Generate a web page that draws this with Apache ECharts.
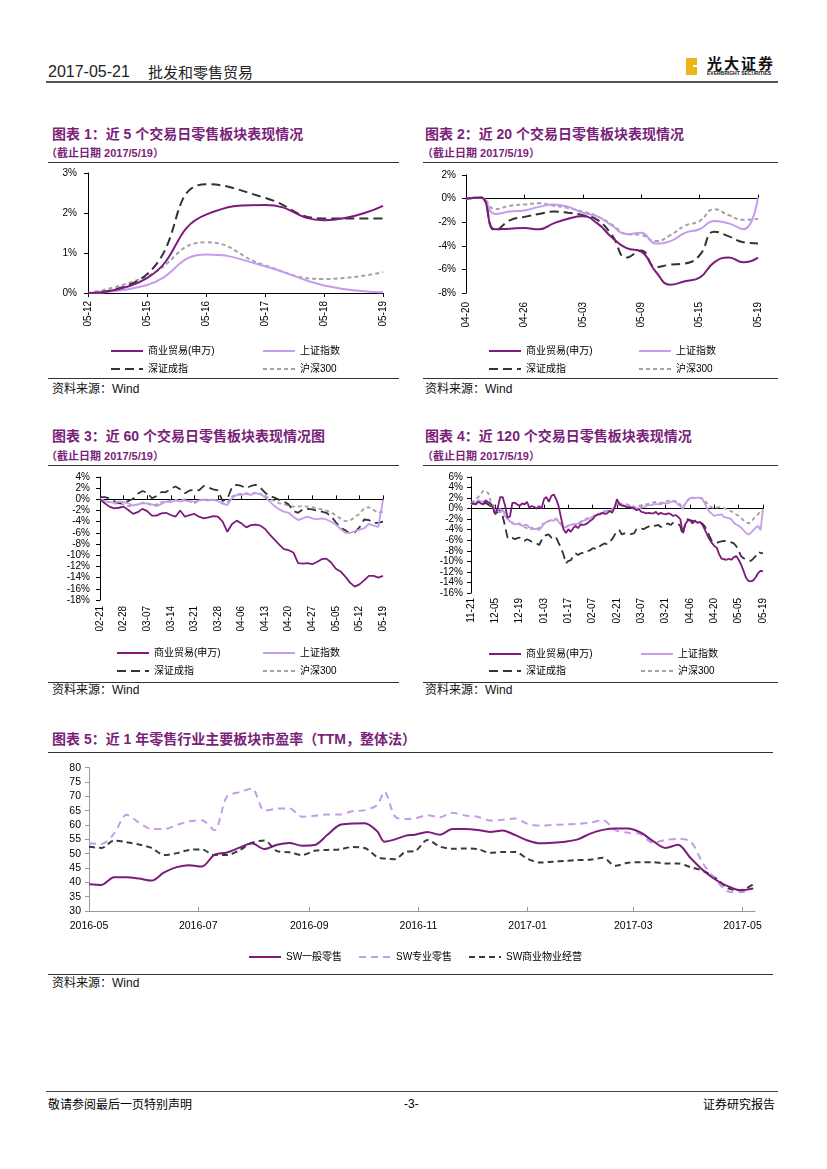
<!DOCTYPE html>
<html lang="zh-CN">
<head>
<meta charset="utf-8">
<title>批发和零售贸易</title>
<script src="https://cdn.jsdelivr.net/npm/echarts/dist/echarts.min.js"></script>
<style>
html,body{margin:0;padding:0;background:#fff;}
#page{position:relative;width:827px;height:1169px;overflow:hidden;font-family:"Liberation Sans","Noto Sans CJK SC",sans-serif;color:#000;}
.a{position:absolute;white-space:nowrap;}
.title{font-weight:bold;font-size:14px;line-height:18px;color:#7A1F7A;font-family:"Liberation Sans","Noto Sans CJK SC",sans-serif;}
.sub{font-weight:bold;font-size:11px;line-height:14px;color:#7A1F7A;}
.rule{position:absolute;height:1.3px;background:#333;}
.src{font-size:12px;line-height:14px;color:#111;}
.ch{position:absolute;}
</style>
</head>
<body>
<div id="page">
  <!-- header -->
  <div class="a" style="left:48px;top:62px;font-size:16px;line-height:20px;color:#222;">2017-05-21</div>
  <div class="a" style="left:148px;top:62px;font-size:15px;line-height:20px;color:#222;font-family:'Noto Sans CJK SC',sans-serif;">批发和零售贸易</div>
  <div class="a" style="left:686px;top:58px;width:11px;height:17px;background:#EDB51C;"></div>
  <div class="a" style="left:693px;top:65px;width:4px;height:2px;background:#fff;"></div>
  <div class="a" style="left:707px;top:54px;font-size:15px;line-height:17px;font-weight:bold;letter-spacing:2px;font-family:'Noto Sans CJK SC',sans-serif;color:#111;">光大证券</div>
  <div class="a" style="left:707px;top:71px;font-size:10px;line-height:10px;font-weight:bold;transform:scale(0.5,0.5);transform-origin:0 0;color:#111;">EVERBRIGHT SECURITIES</div>
  <div class="rule" style="left:46px;top:81px;width:732px;height:1.5px;background:#555;"></div>

  <!-- chart 1 -->
  <div class="a title" style="left:52px;top:125px;">图表 1：近 5 个交易日零售板块表现情况</div>
  <div class="a sub" style="left:46px;top:146px;">（截止日期 2017/5/19）</div>
  <div class="rule" style="left:48px;top:162px;width:351px;"></div>
  <div id="c1" class="ch" style="left:40px;top:165px;width:370px;height:212px;"></div>
  <div class="rule" style="left:48px;top:378px;width:351px;"></div>
  <div class="a src" style="left:52px;top:382px;">资料来源：Wind</div>

  <!-- chart 2 -->
  <div class="a title" style="left:425px;top:125px;">图表 2：近 20 个交易日零售板块表现情况</div>
  <div class="a sub" style="left:422px;top:146px;">（截止日期 2017/5/19）</div>
  <div class="rule" style="left:423px;top:162px;width:355px;"></div>
  <div id="c2" class="ch" style="left:420px;top:165px;width:380px;height:212px;"></div>
  <div class="rule" style="left:423px;top:378px;width:355px;"></div>
  <div class="a src" style="left:425px;top:382px;">资料来源：Wind</div>

  <!-- chart 3 -->
  <div class="a title" style="left:52px;top:427px;">图表 3：近 60 个交易日零售板块表现情况图</div>
  <div class="a sub" style="left:46px;top:449px;">（截止日期 2017/5/19）</div>
  <div class="rule" style="left:48px;top:465px;width:351px;"></div>
  <div id="c3" class="ch" style="left:40px;top:466px;width:370px;height:215px;"></div>
  <div class="rule" style="left:48px;top:682px;width:351px;"></div>
  <div class="a src" style="left:52px;top:683px;">资料来源：Wind</div>

  <!-- chart 4 -->
  <div class="a title" style="left:425px;top:427px;">图表 4：近 120 个交易日零售板块表现情况</div>
  <div class="a sub" style="left:422px;top:449px;">（截止日期 2017/5/19）</div>
  <div class="rule" style="left:423px;top:465px;width:355px;"></div>
  <div id="c4" class="ch" style="left:420px;top:466px;width:380px;height:215px;"></div>
  <div class="rule" style="left:423px;top:682px;width:355px;"></div>
  <div class="a src" style="left:425px;top:683px;">资料来源：Wind</div>

  <!-- chart 5 -->
  <div class="a title" style="left:52px;top:730px;">图表 5：近 1 年零售行业主要板块市盈率（TTM，整体法）</div>
  <div class="rule" style="left:48px;top:752px;width:725px;"></div>
  <div id="c5" class="ch" style="left:40px;top:755px;width:760px;height:218px;"></div>
  <div class="rule" style="left:48px;top:974px;width:725px;"></div>
  <div class="a src" style="left:52px;top:976px;">资料来源：Wind</div>

  <!-- footer -->
  <div class="rule" style="left:46px;top:1091px;width:732px;height:1px;background:#444;"></div>
  <div class="a" style="left:48px;top:1097px;font-size:12px;line-height:14px;font-family:'Noto Sans CJK SC',sans-serif;">敬请参阅最后一页特别声明</div>
  <div class="a" style="left:404px;top:1097px;font-size:12px;line-height:14px;">-3-</div>
  <div class="a" style="left:703px;top:1097px;font-size:12px;line-height:14px;font-family:'Noto Sans CJK SC',sans-serif;">证券研究报告</div>
</div>

<script>
// ---------------- data ----------------
const seriesNames = ['商业贸易(申万)', '上证指数', '深证成指', '沪深300'];

// chart 1: last 5 trading days
const c1Dates = ['05-12','05-15','05-16','05-17','05-18','05-19'];
const c1Trade = [0, 0.37, 1.96, 2.2, 1.82, 2.18];
const c1SH    = [0, 0.2, 0.96, 0.67, 0.19, 0.02];
const c1SZ    = [0, 0.47, 2.72, 2.38, 1.86, 1.86];
const c1HS    = [0, 0.42, 1.27, 0.69, 0.35, 0.52];
const c1Ticks = [0, 1, 2, 3];

// chart 2: last 20 trading days
const c2Dates = ['04-20','04-21','04-24','04-25','04-26','04-27','04-28','05-02','05-03','05-04','05-05','05-08','05-09','05-10','05-11','05-12','05-15','05-16','05-17','05-18','05-19'];
const c2Trade = [0, 0.1, -2.6, -2.55, -2.5, -2.6, -2.1, -1.7, -1.5, -2.1, -3.3, -4.2, -4.5, -6.2, -7.3, -7.0, -6.7, -5.4, -5.0, -5.4, -5.0];
const c2SH    = [0, 0.1, -1.3, -1.1, -1.0, -0.7, -0.5, -0.7, -1.2, -1.5, -2.3, -3.0, -2.9, -3.8, -3.6, -2.9, -2.6, -1.9, -2.1, -2.6, 0.1];
const c2SZ    = [0, 0.1, -2.7, -1.85, -1.55, -1.3, -1.1, -1.2, -1.4, -1.8, -3.1, -5.0, -4.4, -5.8, -5.6, -5.5, -4.8, -2.8, -3.2, -3.7, -3.8];
const c2HS    = [0, 0.1, -0.9, -0.6, -0.5, -0.4, -0.6, -0.8, -1.1, -1.5, -2.2, -3.0, -3.1, -3.6, -3.1, -2.3, -1.9, -0.9, -1.4, -1.8, -1.7];

// chart 3: last 60 trading days
const c3Dates = ['02-21','02-22','02-23','02-24','02-27','02-28','03-01','03-02','03-03','03-06',
  '03-07','03-08','03-09','03-10','03-13','03-14','03-15','03-16','03-17','03-20',
  '03-21','03-22','03-23','03-24','03-27','03-28','03-29','03-30','03-31','04-05',
  '04-06','04-07','04-10','04-11','04-12','04-13','04-14','04-17','04-18','04-19',
  '04-20','04-21','04-24','04-25','04-26','04-27','04-28','05-02','05-03','05-04',
  '05-05','05-08','05-09','05-10','05-11','05-12','05-15','05-16','05-17','05-18',
  '05-19'];
const c3Trade = [0.0,-0.7,-1.3,-1.6,-1.5,-1.3,-1.9,-2.6,-2.3,-1.7,
  -2.1,-2.9,-2.9,-2.5,-2.4,-2.8,-3.1,-2.0,-3.1,-2.8,
  -2.6,-3.1,-3.4,-3.2,-3.0,-3.1,-4.0,-5.8,-4.4,-3.8,
  -4.3,-5.0,-4.6,-4.5,-4.7,-5.3,-6.3,-7.2,-8.1,-8.9,
  -9.1,-9.5,-11.4,-11.5,-11.4,-11.6,-11.2,-10.7,-10.6,-11.3,
  -12.4,-12.9,-13.8,-14.9,-15.6,-15.2,-14.5,-13.7,-13.7,-14.0,
  -13.7];
const c3SH = [0.0,-0.3,-0.5,-0.6,-0.4,-0.5,-0.7,-1.1,-0.9,-0.7,
  -0.7,-0.9,-1.2,-0.8,-0.4,-0.5,-0.2,-0.4,-0.2,-0.3,
  -0.4,-0.2,-0.1,-0.2,-0.1,-0.3,-0.8,-1.0,0.2,0.8,
  0.8,1.0,0.8,1.1,0.9,0.4,-0.4,-1.2,-1.8,-2.2,
  -2.4,-3.1,-3.7,-3.4,-3.1,-3.4,-3.6,-3.4,-3.6,-4.0,
  -4.5,-5.3,-6.0,-6.0,-5.7,-5.4,-5.2,-4.4,-4.7,-4.9,
  -0.1];
const c3SZ = [0.4,0.4,0.2,-0.3,-0.7,-0.6,-0.3,0.1,1.0,1.5,
  1.2,0.2,0.6,1.3,1.3,1.9,2.3,1.8,1.1,1.6,
  1.7,1.6,2.4,2.1,1.8,1.6,-0.3,0.1,2.2,2.6,
  2.4,2.0,2.4,2.6,2.1,1.2,0.6,0.3,-0.1,-0.4,
  -0.9,-2.1,-2.4,-1.8,-1.7,-1.8,-2.0,-2.2,-2.4,-3.0,
  -4.1,-5.1,-5.5,-6.1,-5.9,-5.0,-3.6,-3.7,-4.2,-4.2,
  -4.0];
const c3HS = [0.0,-0.3,-0.5,-0.7,-0.8,-0.9,-1.2,-1.1,-0.9,-0.6,
  -0.7,-1.1,-0.9,-0.5,-0.4,-0.2,-0.1,-0.2,0.0,-0.4,
  -0.7,-0.2,0.0,-0.1,0.0,-0.2,-0.7,-0.6,0.5,0.9,
  1.0,1.1,1.0,1.2,1.0,0.6,0.1,-0.3,-0.7,-0.9,
  -1.1,-1.3,-1.3,-1.2,-1.3,-1.4,-1.6,-1.8,-2.0,-2.3,
  -2.9,-3.4,-3.9,-3.8,-3.2,-2.6,-1.6,-1.4,-1.9,-2.4,
  -2.2];

// chart 4: last 120 trading days
const c4Dates = ['11-21','11-22','11-23','11-24','11-25','11-28','11-29','11-30','12-01','12-02',
  '12-05','12-06','12-07','12-08','12-09','12-12','12-13','12-14','12-15','12-16',
  '12-19','12-20','12-21','12-22','12-23','12-26','12-27','12-28','12-29','12-30',
  '01-03','01-04','01-05','01-06','01-09','01-10','01-11','01-12','01-13','01-16',
  '01-17','01-18','01-19','01-20','01-23','01-24','01-25','01-26','02-03','02-06',
  '02-07','02-08','02-09','02-10','02-13','02-14','02-15','02-16','02-17','02-20',
  '02-21','02-22','02-23','02-24','02-27','02-28','03-01','03-02','03-03','03-06',
  '03-07','03-08','03-09','03-10','03-13','03-14','03-15','03-16','03-17','03-20',
  '03-21','03-22','03-23','03-24','03-27','03-28','03-29','03-30','03-31','04-05',
  '04-06','04-07','04-10','04-11','04-12','04-13','04-14','04-17','04-18','04-19',
  '04-20','04-21','04-24','04-25','04-26','04-27','04-28','05-02','05-03','05-04',
  '05-05','05-08','05-09','05-10','05-11','05-12','05-15','05-16','05-17','05-18',
  '05-19'];
const c4Trade = [1.1,0.9,0.8,1.3,1.0,0.8,1.6,1.2,1.0,0.2,
  -1.1,0.2,2.2,2.2,0.6,-1.7,-1.5,1.1,1.1,0.8,
  0.5,1.0,0.8,1.3,0.2,0.5,0.3,0.0,0.5,0.0,
  1.8,2.2,1.3,2.4,2.7,1.8,0.5,-1.7,-3.9,-4.6,
  -3.9,-4.4,-3.7,-3.3,-3.7,-3.0,-3.1,-3.0,-2.7,-2.3,
  -2.0,-1.4,-1.1,-1.1,-0.8,-1.0,-0.9,-0.4,-0.8,0.2,
  1.8,0.8,0.6,0.5,0.3,0.3,0.2,0.1,-0.3,-0.1,
  -0.6,-0.7,-0.9,-0.8,-0.9,-0.9,-0.6,-1.1,-0.8,-1.0,
  -1.1,-0.9,-1.0,-1.4,-1.2,-1.5,-2.0,-4.6,-3.0,-2.3,
  -2.2,-2.8,-2.2,-2.7,-2.5,-3.0,-3.9,-4.9,-5.8,-6.5,
  -7.1,-7.4,-8.7,-9.5,-9.6,-9.7,-9.5,-9.7,-9.2,-9.0,
  -9.7,-10.6,-11.8,-13.1,-13.7,-13.8,-13.6,-13.0,-12.2,-11.8,
  -11.9];
const c4SH = [0.8,1.1,1.2,1.6,1.4,1.3,1.5,1.3,0.9,0.3,
  -0.3,-0.4,-0.8,-0.1,-1.4,-2.0,-2.4,-2.8,-3.0,-2.9,
  -2.8,-3.3,-3.1,-3.1,-3.6,-3.6,-3.9,-3.8,-4.1,-3.5,
  -2.8,-2.5,-2.4,-2.2,-2.3,-1.8,-2.5,-3.1,-3.5,-3.6,
  -3.3,-3.0,-3.1,-3.0,-2.8,-2.7,-2.3,-2.2,-2.0,-1.8,
  -1.6,-1.4,-1.2,-1.0,-0.8,-0.4,-0.5,-0.4,-0.3,0.2,
  1.0,0.8,0.6,0.5,0.6,0.6,0.2,-0.1,0.1,0.0,
  0.2,0.3,0.5,0.7,0.6,0.8,0.9,0.8,0.8,1.1,
  1.0,1.0,1.3,1.4,1.5,0.8,0.5,-0.1,0.9,1.6,
  2.0,2.1,2.0,2.1,2.1,1.8,1.1,0.1,-0.6,-1.0,
  -1.4,-1.2,-1.2,-1.1,-1.6,-1.7,-1.8,-2.0,-2.7,-3.0,
  -3.3,-3.6,-4.1,-4.6,-4.9,-4.6,-4.1,-3.6,-3.3,-4.1,
  -0.1];
const c4SZ = [0.8,1.0,1.1,1.3,1.1,0.8,1.1,0.8,0.5,-0.3,
  -0.9,-0.6,-0.4,-1.4,-3.3,-5.5,-5.2,-5.5,-5.8,-5.6,
  -5.5,-6.0,-6.1,-5.8,-6.0,-6.3,-6.5,-6.6,-6.9,-6.0,
  -5.2,-5.0,-4.9,-5.5,-5.8,-5.5,-6.5,-7.4,-8.7,-10.4,
  -9.9,-9.8,-9.0,-8.5,-8.8,-8.5,-8.4,-8.0,-8.0,-7.9,
  -7.5,-7.6,-7.7,-7.1,-6.8,-6.6,-6.8,-6.3,-5.8,-5.0,
  -4.2,-4.1,-4.9,-4.7,-4.8,-4.9,-4.8,-4.7,-3.9,-3.7,
  -3.8,-3.9,-3.6,-3.4,-3.1,-3.3,-3.2,-3.1,-3.5,-3.1,
  -3.0,-2.8,-3.1,-2.7,-2.7,-2.8,-3.3,-5.0,-3.0,-2.0,
  -2.2,-2.3,-2.5,-2.8,-2.7,-2.8,-3.3,-4.2,-5.2,-6.1,
  -6.4,-6.5,-6.3,-6.2,-6.1,-6.2,-6.3,-6.4,-6.6,-7.1,
  -8.0,-9.0,-9.4,-9.6,-9.8,-9.9,-9.5,-9.0,-8.2,-8.4,
  -8.5];
const c4HS = [1.1,1.4,1.8,2.2,2.7,3.4,3.2,3.0,1.5,0.8,
  0.2,-0.3,0.0,-0.4,-0.8,-1.7,-2.3,-2.7,-2.8,-2.9,
  -3.0,-3.2,-3.5,-3.7,-3.8,-3.9,-3.9,-3.7,-3.8,-3.0,
  -2.9,-2.5,-2.3,-2.2,-2.1,-2.0,-2.3,-2.9,-3.3,-3.4,
  -3.2,-3.0,-3.0,-2.9,-2.8,-2.5,-2.2,-2.0,-1.8,-1.7,
  -1.5,-1.2,-1.0,-0.9,-0.7,-0.6,-0.4,-0.2,-0.1,0.3,
  1.5,1.1,0.9,0.8,0.8,0.7,0.7,0.3,0.4,0.5,
  0.6,0.8,0.8,0.9,1.0,1.2,1.3,1.1,1.1,1.2,
  1.3,1.5,1.6,1.4,1.3,1.0,0.8,0.1,0.9,1.5,
  2.0,2.1,2.0,2.0,2.0,2.0,1.5,1.0,0.5,0.2,
  0.1,0.2,0.3,0.2,0.1,-0.1,-0.3,-0.5,-0.8,-1.1,
  -1.4,-1.8,-2.2,-2.5,-2.8,-2.6,-2.0,-1.5,-1.1,-0.4,
  -0.6];

// chart 5: P/E (TTM) over one year
const c5Names = ['SW一般零售', 'SW专业零售', 'SW商业物业经营'];
const c5Dates = ['2016-05-01','2016-05-08','2016-05-15','2016-05-22','2016-05-29','2016-06-05','2016-06-12','2016-06-19','2016-06-26','2016-07-03',
  '2016-07-10','2016-07-17','2016-07-24','2016-07-31','2016-08-07','2016-08-14','2016-08-21','2016-08-28','2016-09-04','2016-09-11',
  '2016-09-18','2016-09-25','2016-10-02','2016-10-09','2016-10-13','2016-10-19','2016-10-25','2016-10-30','2016-11-06','2016-11-13',
  '2016-11-20','2016-11-27','2016-12-04','2016-12-11','2016-12-18','2016-12-25','2017-01-01','2017-01-08','2017-01-15','2017-01-22',
  '2017-01-29','2017-02-05','2017-02-12','2017-02-19','2017-02-26','2017-03-05','2017-03-12','2017-03-19','2017-03-26','2017-04-02',
  '2017-04-09','2017-04-16','2017-04-23','2017-04-30','2017-05-07'];
const c5General = [39.3,39.1,41.8,41.8,41.3,40.6,43.5,45.3,46.0,45.5,
  49.6,50.4,52.1,53.6,51.6,53.1,53.7,52.8,53.0,56.5,
  60.0,60.5,60.6,57.8,54.2,55.0,56.3,56.6,57.6,56.6,
  58.6,58.6,58.3,57.6,58.1,56.5,54.6,53.6,53.8,54.2,
  55.0,57.0,58.3,58.8,58.8,57.4,54.4,52.0,53.1,48.5,
  44.2,40.9,38.6,37.2,37.9];
const c5Special = [53.6,53.4,57.0,63.6,60.8,58.6,58.6,60.0,61.3,61.7,
  58.2,69.9,71.5,72.7,65.0,65.7,65.8,62.9,63.2,63.7,
  63.7,64.8,65.2,67.0,71.6,62.9,62.1,62.3,63.4,62.7,
  64.3,63.3,62.9,61.6,61.8,62.3,60.4,59.8,60.0,60.2,
  60.4,60.8,61.7,58.2,57.3,56.8,53.8,54.8,55.1,54.3,
  46.5,41.0,36.8,36.5,37.9];
const c5Property = [52.4,52.0,54.6,54.0,53.2,52.0,49.5,50.2,51.3,51.5,
  49.5,49.5,51.2,53.8,54.6,50.9,50.5,49.5,51.0,51.3,
  51.5,52.3,52.0,48.8,48.3,48.1,50.7,50.9,54.8,52.5,
  51.7,51.8,51.6,50.3,50.6,50.6,48.2,46.9,47.2,47.5,
  47.8,47.9,48.6,45.8,46.8,47.0,47.0,46.6,46.6,45.3,
  44.0,41.5,37.9,37.3,39.3];
const c5TickLabels = ['2016-05','2016-07','2016-09','2016-11','2017-01','2017-03','2017-05'];

// ---------------- rendering ----------------
const FONT = '"Liberation Sans", "Noto Sans CJK SC", sans-serif';
const lineStyles = [
  {color:'#7D1A7D', type:'solid'},
  {color:'#C59CEB', type:'solid'},
  {color:'#333333', type:[9,5]},
  {color:'#A2A2A2', type:[4,3]}
];

function legendRows(names, pos) {
  return names.map((n, i) => ({
    data: [n], left: pos[i][0], top: pos[i][1], padding: 0,
    itemWidth: 32, itemHeight: 12, selectedMode: false,
    itemStyle: {opacity: 0, borderWidth: 0},
    textStyle: {fontSize: 10, color: '#000', fontFamily: FONT}
  }));
}

function indexChart(id, cfg) {
  const chart = echarts.init(document.getElementById(id));
  const vals = cfg.values;
  const series = vals.map((v, i) => ({
    name: seriesNames[i], type: 'line', data: v, xAxisIndex: 0, yAxisIndex: 0,
    symbol: 'none', smooth: cfg.smooth, z: 10 - i,
    lineStyle: {color: lineStyles[i].color, width: cfg.lw, type: lineStyles[i].type},
    itemStyle: {color: lineStyles[i].color}
  }));
  const xAxes = [{
    type: 'category', data: cfg.dates, boundaryGap: false, position: 'bottom',
    axisLine: {show: !cfg.zeroAxis, onZero: false, lineStyle: {color: '#000', width: 1}},
    axisTick: {show: !cfg.zeroAxis, interval: cfg.interval, length: 4, lineStyle: {color: '#000'}},
    axisLabel: {interval: cfg.interval, rotate: 90, fontSize: 10, color: '#000', margin: cfg.xMargin, fontFamily: FONT}
  }];
  if (cfg.zeroAxis) {
    xAxes.push({
      type: 'category', data: cfg.dates, boundaryGap: false, position: 'bottom',
      axisLine: {show: true, onZero: true, onZeroAxisIndex: 0, lineStyle: {color: '#000', width: 1}},
      axisTick: {show: true, inside: true, interval: cfg.interval, length: 4, lineStyle: {color: '#000'}},
      axisLabel: {show: false}
    });
  }
  chart.setOption({
    animation: false,
    grid: cfg.grid,
    legend: legendRows(seriesNames, cfg.legendPos),
    xAxis: xAxes,
    yAxis: {
      type: 'value', min: cfg.min, max: cfg.max, interval: cfg.interval2,
      axisLine: {show: true, lineStyle: {color: '#000', width: 1}},
      axisTick: {show: true, length: 4, lineStyle: {color: '#000'}},
      splitLine: {show: false},
      axisLabel: {formatter: '{value}%', fontSize: 10, color: '#000', margin: cfg.yMargin, fontFamily: FONT}
    },
    series: series
  });
}

indexChart('c1', {
  dates: c1Dates, values: [c1Trade, c1SH, c1SZ, c1HS], smooth: true, lw: 2,
  grid: {left: 48, top: 8, width: 295, height: 120},
  min: c1Ticks[0], max: c1Ticks[c1Ticks.length - 1], interval2: 1, interval: 0,
  zeroAxis: false, xMargin: 8, yMargin: 11,
  legendPos: [[70, 181], [222, 181], [70, 199], [222, 199]]
});
indexChart('c2', {
  dates: c2Dates, values: [c2Trade, c2SH, c2SZ, c2HS], smooth: true, lw: 2,
  grid: {left: 46, top: 10, width: 292, height: 118},
  min: -8, max: 2, interval2: 2, interval: 3,
  zeroAxis: true, xMargin: 9, yMargin: 10,
  legendPos: [[68, 181], [218, 181], [68, 199], [218, 199]]
});
indexChart('c3', {
  dates: c3Dates, values: [c3Trade, c3SH, c3SZ, c3HS], smooth: false, lw: 1.8,
  grid: {left: 60, top: 11, width: 283, height: 123},
  min: -18, max: 4, interval2: 2, interval: 4,
  zeroAxis: true, xMargin: 6, yMargin: 10,
  legendPos: [[76, 182], [222, 182], [76, 200], [222, 200]]
});
indexChart('c4', {
  dates: c4Dates, values: [c4Trade, c4SH, c4SZ, c4HS], smooth: false, lw: 1.8,
  grid: {left: 51, top: 11, width: 292, height: 116},
  min: -16, max: 6, interval2: 2, interval: 9,
  zeroAxis: true, xMargin: 5, yMargin: 8,
  legendPos: [[68, 183], [220, 183], [68, 200], [220, 200]]
});

// chart 5 (x = timestamp on a value axis, month labels placed at custom values)
(function () {
  const chart = echarts.init(document.getElementById('c5'));
  const ts = s => new Date(s + 'T00:00:00').getTime();
  const tickTs = c5TickLabels.map(l => ts(l + '-01'));
  const fmt = v => { const d = new Date(v); return d.getFullYear() + '-' + String(d.getMonth() + 1).padStart(2, '0'); };
  const styles = [
    {color: '#7D1A7D', type: 'solid'},
    {color: '#C39BEA', type: [7, 5]},
    {color: '#3A3A3A', type: [6, 4]}
  ];
  const data = [c5General, c5Special, c5Property];
  chart.setOption({
    animation: false,
    grid: {left: 49, top: 12.7, width: 666, height: 143.3},
    legend: c5Names.map((n, i) => ({
      data: [n], left: [208, 318, 428][i], top: 197, padding: 0,
      itemWidth: 32, itemHeight: 12, selectedMode: false,
      itemStyle: {opacity: 0, borderWidth: 0},
      textStyle: {fontSize: 10, color: '#000', fontFamily: FONT}
    })),
    xAxis: {
      type: 'value', min: ts('2016-05-01'), max: ts('2017-05-08'), scale: true,
      axisLine: {show: true, onZero: false, lineStyle: {color: '#999'}},
      axisTick: {show: true, inside: true, length: 4, customValues: tickTs, lineStyle: {color: '#999'}},
      axisLabel: {customValues: tickTs, formatter: fmt, fontSize: 10.5, color: '#000', margin: 10, fontFamily: FONT},
      splitLine: {show: false}
    },
    yAxis: {
      type: 'value', min: 30, max: 80, interval: 5,
      axisLine: {show: true, lineStyle: {color: '#999'}},
      axisTick: {show: true, length: 4, lineStyle: {color: '#999'}},
      splitLine: {show: false},
      axisLabel: {fontSize: 10.5, color: '#000', margin: 8, fontFamily: FONT}
    },
    series: data.map((arr, i) => ({
      name: c5Names[i], type: 'line', symbol: 'none', smooth: 0.3, z: 10 - i,
      data: c5Dates.map((d, k) => [ts(d), arr[k]]),
      lineStyle: {color: styles[i].color, width: 2, type: styles[i].type},
      itemStyle: {color: styles[i].color}
    }))
  });
})();
</script>
</body>
</html>
